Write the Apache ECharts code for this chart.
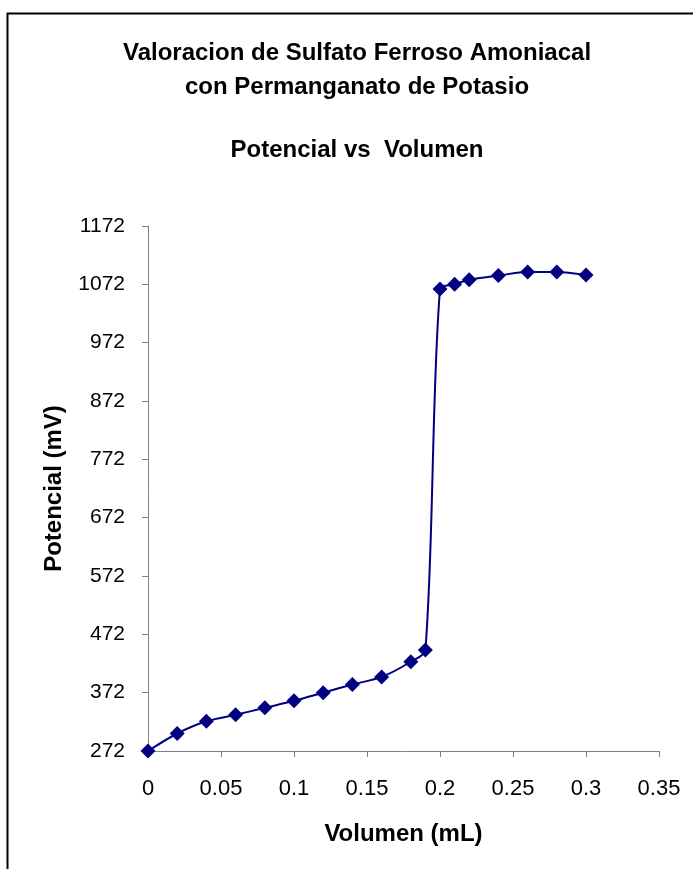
<!DOCTYPE html>
<html><head><meta charset="utf-8">
<script src="https://cdn.jsdelivr.net/npm/echarts@6/dist/echarts.min.js"></script>
<style>html,body{margin:0;padding:0;background:#fff}#c{width:693px;height:869px}</style>
</head><body><div id="c"></div>
<script>
const volumes = [0, 0.02, 0.04, 0.06, 0.08, 0.10, 0.12, 0.14, 0.16, 0.18, 0.19, 0.20, 0.21, 0.22, 0.24, 0.26, 0.28, 0.30];
const potentials = [272, 302, 323, 334, 346, 358, 372, 386, 399, 425, 445, 1064, 1072, 1080, 1087, 1093, 1093, 1088];
const titleLines = ['Valoracion de Sulfato Ferroso Amoniacal', 'con Permanganato de Potasio'];
const subtitleText = 'Potencial vs  Volumen';
const xName = 'Volumen (mL)';
const yName = 'Potencial (mV)';

const font = 'Arial, "Liberation Sans", sans-serif';
const chart = echarts.init(document.getElementById('c'), null, {renderer: 'canvas'});
chart.setOption({
  backgroundColor: '#fff',
  animation: false,
  graphic: [
    {type: 'rect', shape: {x: 7.5, y: 13.5, width: 720, height: 900}, style: {fill: 'none', stroke: '#000', lineWidth: 2}, silent: true},
    {type: 'text', x: 357, y: 53, style: {text: titleLines[0], font: 'bold 24px ' + font, fill: '#000', textAlign: 'center', textVerticalAlign: 'middle'}},
    {type: 'text', x: 357, y: 87, style: {text: titleLines[1], font: 'bold 24px ' + font, fill: '#000', textAlign: 'center', textVerticalAlign: 'middle'}},
    {type: 'text', x: 357, y: 150, style: {text: subtitleText, font: 'bold 24px ' + font, fill: '#000', textAlign: 'center', textVerticalAlign: 'middle'}}
  ],
  grid: {left: 148, right: 34, top: 226, bottom: 118, containLabel: false},
  xAxis: {
    type: 'value', min: 0, max: 0.35, interval: 0.05,
    name: xName, nameLocation: 'middle', nameGap: 71,
    nameTextStyle: {fontFamily: font, fontSize: 24, fontWeight: 'bold', color: '#000'},
    axisLine: {lineStyle: {color: '#808080', width: 1}},
    axisTick: {show: true, length: 6, inside: false, lineStyle: {color: '#808080'}},
    axisLabel: {fontFamily: font, fontSize: 22, color: '#000', margin: 27, formatter: v => String(+v.toFixed(2))},
    splitLine: {show: false}
  },
  yAxis: {
    type: 'value', min: 272, max: 1172, interval: 100,
    name: yName, nameLocation: 'middle', nameGap: 82, nameRotate: 90,
    nameTextStyle: {fontFamily: font, fontSize: 24, fontWeight: 'bold', color: '#000'},
    axisLine: {show: true, lineStyle: {color: '#808080', width: 1}},
    axisTick: {show: true, length: 6, lineStyle: {color: '#808080'}},
    axisLabel: {fontFamily: font, fontSize: 21, color: '#000', margin: 23, formatter: v => String(v)},
    splitLine: {show: false}
  },
  series: [{
    type: 'line',
    data: volumes.map((v, i) => [v, potentials[i]]),
    smooth: 0.3,
    symbol: 'diamond', symbolSize: 15,
    itemStyle: {color: '#000080'},
    lineStyle: {color: '#000080', width: 2},
    clip: false
  }]
});
</script></body></html>
